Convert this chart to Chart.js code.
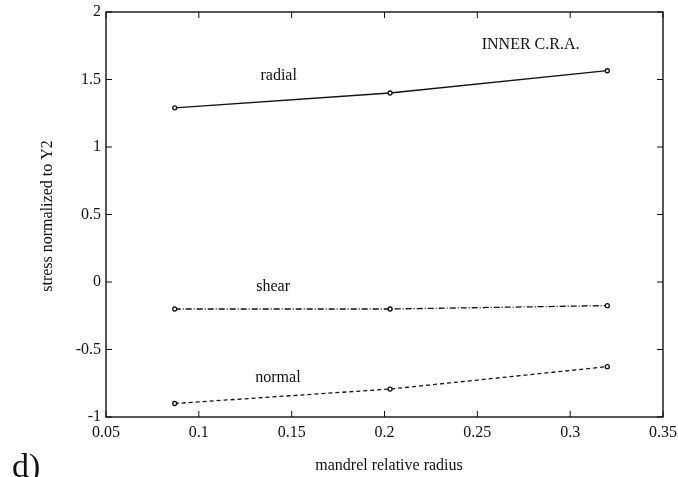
<!DOCTYPE html>
<html>
<head>
<meta charset="utf-8">
<script src="https://cdn.jsdelivr.net/npm/chart.js@4/dist/chart.umd.min.js"></script>
<style>
  html, body { margin: 0; padding: 0; background: #fff; }
  #wrap { width: 678px; height: 477px; }
</style>
</head>
<body>
<div id="wrap"><canvas id="chart"></canvas></div>
<script>
const radius = [0.087, 0.203, 0.32];
const radial = [1.29, 1.40, 1.565];
const shear = [-0.20, -0.20, -0.175];
const normal = [-0.90, -0.793, -0.627];
const xTickLabels = ['0.05', '0.1', '0.15', '0.2', '0.25', '0.3', '0.35'];
const yTickLabels = ['-1', '-0.5', '0', '0.5', '1', '1.5', '2'];

const serif = '"Liberation Serif", "DejaVu Serif", serif';

function pts(ys) {
  return radius.map((x, i) => ({ x: x, y: ys[i] }));
}

function series(label, ys, dash) {
  return {
    label: label,
    data: pts(ys),
    borderColor: '#111',
    borderWidth: 1.3,
    borderDash: dash,
    pointRadius: 2,
    pointBorderWidth: 1.3,
    pointBackgroundColor: '#fff',
    pointBorderColor: '#111',
    fill: false,
    tension: 0
  };
}

// labels drawn at data coordinates
const notes = [
  { text: 'radial', x: 0.143, y: 1.526 },
  { text: 'INNER C.R.A.', x: 0.2787, y: 1.756 },
  { text: 'shear', x: 0.140, y: -0.037 },
  { text: 'normal', x: 0.1426, y: -0.711 }
];

const framePlugin = {
  id: 'frame',
  afterDraw(chart) {
    const { ctx, chartArea: a, scales } = chart;
    ctx.save();
    ctx.strokeStyle = '#111';
    ctx.lineWidth = 1.4;
    ctx.strokeRect(a.left, a.top, a.right - a.left, a.bottom - a.top);
    // inward ticks on all sides
    ctx.lineWidth = 1;
    const t = 6;
    scales.x.ticks.forEach(tk => {
      const px = scales.x.getPixelForValue(tk.value);
      ctx.beginPath();
      ctx.moveTo(px, a.bottom); ctx.lineTo(px, a.bottom - t);
      ctx.moveTo(px, a.top); ctx.lineTo(px, a.top + t);
      ctx.stroke();
    });
    scales.y.ticks.forEach(tk => {
      const py = scales.y.getPixelForValue(tk.value);
      ctx.beginPath();
      ctx.moveTo(a.left, py); ctx.lineTo(a.left + t, py);
      ctx.moveTo(a.right, py); ctx.lineTo(a.right - t, py);
      ctx.stroke();
    });
    ctx.fillStyle = '#111';
    ctx.textAlign = 'center';
    ctx.textBaseline = 'middle';
    ctx.font = '16px ' + serif;
    notes.forEach(n => {
      ctx.fillText(n.text, scales.x.getPixelForValue(n.x), scales.y.getPixelForValue(n.y));
    });
    // axis titles
    ctx.font = '16px ' + serif;
    ctx.fillText('mandrel relative radius', 389, 466);
    ctx.save();
    ctx.translate(48, 216);
    ctx.rotate(-Math.PI / 2);
    ctx.fillText('stress normalized to Y2', 0, 0);
    ctx.restore();
    ctx.font = '34px ' + serif;
    ctx.textAlign = 'left';
    ctx.fillText('d)', 12, 468);
    ctx.restore();
  }
};

new Chart(document.getElementById('chart'), {
  type: 'line',
  data: {
    datasets: [
      series('radial', radial, []),
      series('shear', shear, [6, 2, 1, 2]),
      series('normal', normal, [4, 3])
    ]
  },
  options: {
    responsive: true,
    maintainAspectRatio: false,
    animation: false,
    layout: { padding: { left: 0, right: 15, top: 12, bottom: 0 } },
    plugins: {
      legend: { display: false },
      tooltip: { enabled: false }
    },
    scales: {
      x: {
        type: 'linear',
        min: 0.05,
        max: 0.35,
        grid: { display: false, drawTicks: false },
        border: { display: false },
        afterFit(s) { s.height = 60; s.paddingLeft = 0; s.paddingRight = 0; },
        ticks: {
          stepSize: 0.05,
          padding: 6,
          color: '#111',
          font: { family: serif, size: 16 },
          callback: (v, i) => xTickLabels[i]
        }
      },
      y: {
        min: -1,
        max: 2,
        grid: { display: false, drawTicks: false },
        border: { display: false },
        afterFit(s) { s.width = 106; s.paddingTop = 0; s.paddingBottom = 0; },
        ticks: {
          stepSize: 0.5,
          padding: 5,
          color: '#111',
          font: { family: serif, size: 16 },
          callback: (v, i) => yTickLabels[i]
        }
      }
    }
  },
  plugins: [framePlugin]
});
</script>
</body>
</html>
